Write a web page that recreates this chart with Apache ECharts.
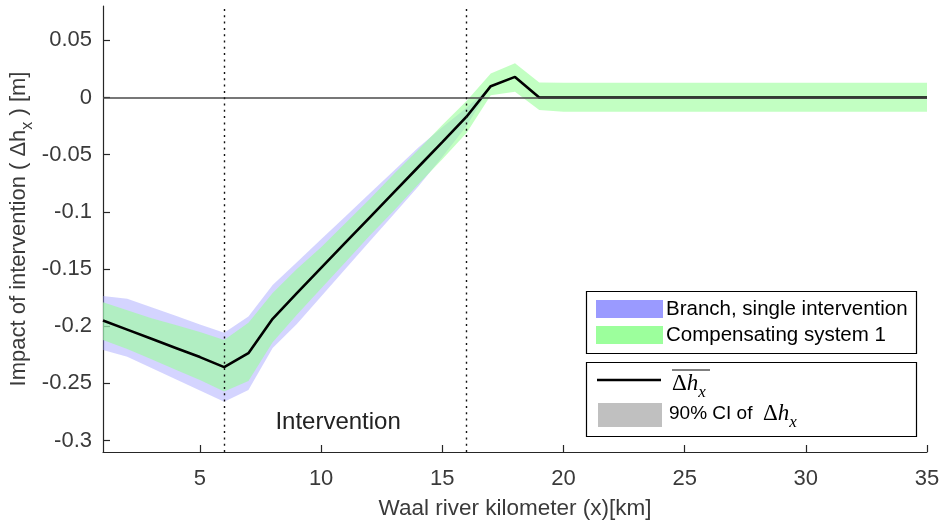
<!DOCTYPE html>
<html>
<head>
<meta charset="utf-8">
<script src="https://cdn.jsdelivr.net/npm/echarts@6/dist/echarts.min.js"></script>
<style>
  html, body { margin: 0; padding: 0; background: #fff; }
  #chart { width: 942px; height: 523px; }
</style>
</head>
<body>
<div id="chart"></div>
<script>
// River kilometre positions along the Waal
const km = [1, 2, 3, 4, 5, 6, 7, 8, 9, 10, 11, 12, 13, 14, 15, 16, 17, 18, 19, 20,
            21, 22, 23, 24, 25, 26, 27, 28, 29, 30, 31, 32, 33, 34, 35];

// Mean water level change (m)
const meanDh = [-0.195, -0.203, -0.211, -0.219, -0.227, -0.2358, -0.2236, -0.1935, -0.171, -0.149,
                -0.127, -0.105, -0.083, -0.061, -0.039, -0.0168, 0.0099, 0.018, 0, 0,
                0, 0, 0, 0, 0, 0, 0, 0, 0, 0, 0, 0, 0, 0, 0];

// 90% CI — branch, single intervention
const branchUpper = [-0.1735, -0.176, -0.1835, -0.1909, -0.1984, -0.2058, -0.1916, -0.164, -0.144, -0.124,
                     -0.104, -0.084, -0.064, -0.044, -0.026, -0.009, 0.0099, 0.018, 0, 0,
                     0, 0, 0, 0, 0, 0, 0, 0, 0, 0, 0, 0, 0, 0, 0];
const branchLower = [-0.2207, -0.2268, -0.2366, -0.2464, -0.2562, -0.266, -0.2557, -0.219, -0.198, -0.174,
                     -0.150, -0.126, -0.102, -0.078, -0.052, -0.025, 0.0099, 0.018, 0, 0,
                     0, 0, 0, 0, 0, 0, 0, 0, 0, 0, 0, 0, 0, 0, 0];

// 90% CI — compensating system 1
const compUpper = [-0.179, -0.186, -0.193, -0.199, -0.205, -0.212, -0.197, -0.171, -0.150, -0.131,
                   -0.110, -0.089, -0.067, -0.046, -0.024, -0.003, 0.021, 0.030, 0.013, 0.0128,
                   0.0128, 0.0128, 0.0128, 0.0128, 0.0128, 0.0128, 0.0128, 0.0128, 0.0128, 0.0128,
                   0.0128, 0.0128, 0.0128, 0.0128, 0.0128];
const compLower = [-0.212, -0.220, -0.229, -0.238, -0.247, -0.257, -0.248, -0.214, -0.190, -0.167,
                   -0.144, -0.121, -0.099, -0.076, -0.054, -0.031, 0.002, 0.005, -0.011, -0.0125,
                   -0.0125, -0.0125, -0.0125, -0.0125, -0.0125, -0.0125, -0.0125, -0.0125, -0.0125, -0.0125,
                   -0.0125, -0.0125, -0.0125, -0.0125, -0.0125];

// Axis ticks
const xTicks = [5, 10, 15, 20, 25, 30, 35];
const yTicks = [-0.3, -0.25, -0.2, -0.15, -0.1, -0.05, 0, 0.05];
const yTickLabels = ['-0.3', '-0.25', '-0.2', '-0.15', '-0.1', '-0.05', '0', '0.05'];

// Intervention reach (km)
const interventionStart = 6;
const interventionEnd = 16;

const FONT = 'Liberation Sans, Arial, Helvetica, sans-serif';
const MATH = 'Liberation Serif, Times New Roman, serif';

const pairs = (ys) => km.map((x, i) => [x, ys[i]]);
const bandData = (up, lo) => km.map((x, i) => [x, up[i], lo[i]]);

// Confidence band drawn as one closed polygon: upper edge forward, lower edge back
function bandSeries(up, lo, fill) {
  return {
    type: 'custom',
    data: bandData(up, lo),
    encode: { x: 0, y: [1, 2] },
    silent: true, z: 1, clip: true,
    renderItem: (params, api) => {
      if (params.dataIndex !== 0) return null;
      const top = km.map((x, i) => api.coord([x, up[i]]));
      const bottom = km.map((x, i) => api.coord([x, lo[i]])).reverse();
      return {
        type: 'polygon',
        shape: { points: top.concat(bottom) },
        style: { fill: fill, stroke: null }
      };
    }
  };
}

const chart = echarts.init(document.getElementById('chart'), null, { renderer: 'canvas' });

const axisColor = '#262626';
const labelColor = '#3a3a3a';

const option = {
  animation: false,
  backgroundColor: '#ffffff',
  grid: { left: 103, right: 15, top: 6, bottom: 71, containLabel: false, outerBoundsMode: 'none' },
  xAxis: {
    type: 'value', min: 1, max: 35,
    axisLine: { show: true, onZero: false, lineStyle: { color: axisColor, width: 1.2 } },
    axisTick: { show: true, inside: true, length: 7, customValues: xTicks, lineStyle: { color: axisColor, width: 1.2 } },
    axisLabel: { customValues: xTicks, fontSize: 22, color: labelColor, fontFamily: FONT, margin: 16 },
    splitLine: { show: false },
    name: 'Waal river kilometer (x)[km]',
    nameLocation: 'middle', nameGap: 45, nameMoveOverlap: false,
    nameTextStyle: { fontSize: 22.5, color: labelColor, fontFamily: FONT }
  },
  yAxis: {
    type: 'value', min: -0.31, max: 0.08,
    axisLine: { show: true, onZero: false, lineStyle: { color: axisColor, width: 1.2 } },
    axisTick: { show: true, inside: true, length: 7, customValues: yTicks, lineStyle: { color: axisColor, width: 1.2 } },
    axisLabel: {
      customValues: yTicks, fontSize: 22, color: labelColor, fontFamily: FONT, margin: 11,
      formatter: (v) => {
        const i = yTicks.findIndex(t => Math.abs(t - v) < 1e-9);
        return i >= 0 ? yTickLabels[i] : '';
      }
    },
    splitLine: { show: false },
    name: 'Impact of intervention ( Δh{sub|x} ) [m]',
    nameLocation: 'middle', nameGap: 67, nameRotate: 90, nameMoveOverlap: false,
    nameTextStyle: {
      fontSize: 22, color: labelColor, fontFamily: FONT,
      rich: {
        sub: { fontSize: 16, color: labelColor, fontFamily: FONT, verticalAlign: 'bottom', lineHeight: 34 }
      }
    }
  },
  series: [
    bandSeries(branchUpper, branchLower, 'rgba(153,153,255,0.42)'),
    bandSeries(compUpper, compLower, 'rgba(153,255,153,0.6)'),
    // Reference lines: zero level and intervention reach
    {
      type: 'line', data: pairs(meanDh), symbol: 'none', lineStyle: { width: 0, opacity: 0 },
      silent: true, z: 2,
      markLine: {
        silent: true, symbol: ['none', 'none'], label: { show: false },
        data: [
          { yAxis: 0, lineStyle: { type: 'solid', color: '#4a4a4a', width: 1.5 } },
          { xAxis: interventionStart, lineStyle: { type: [2, 4.3], color: '#111', width: 1.4 } },
          { xAxis: interventionEnd, lineStyle: { type: [2, 4.3], color: '#111', width: 1.4 } }
        ]
      }
    },
    // Mean impact
    {
      type: 'line', data: pairs(meanDh), symbol: 'none', silent: true, z: 4,
      lineStyle: { color: '#000', width: 2.6 },
      markPoint: {
        silent: true, symbol: 'circle', symbolSize: 0,
        data: [{ coord: [10.7, -0.2845] }],
        label: { show: true, position: 'inside', formatter: 'Intervention', fontSize: 24, color: '#222', fontFamily: FONT }
      }
    }
  ],
  graphic: [
    // Legend box: scenarios
    { type: 'rect', shape: { x: 586.5, y: 291.5, width: 330, height: 62 }, style: { fill: '#fff', stroke: '#000', lineWidth: 1.2 }, z: 10 },
    { type: 'rect', shape: { x: 596, y: 300, width: 67, height: 18 }, style: { fill: '#9a9aff' }, z: 11 },
    { type: 'rect', shape: { x: 596, y: 326, width: 67, height: 18 }, style: { fill: '#9cff9c' }, z: 11 },
    { type: 'text', x: 666, y: 309, style: { text: 'Branch, single intervention', font: '20.5px ' + FONT, fill: '#000', textVerticalAlign: 'middle' }, z: 11 },
    { type: 'text', x: 666, y: 335, style: { text: 'Compensating system 1', font: '20.5px ' + FONT, fill: '#000', textVerticalAlign: 'middle' }, z: 11 },
    // Legend box: statistics
    { type: 'rect', shape: { x: 586.5, y: 362.5, width: 330, height: 74 }, style: { fill: '#fff', stroke: '#000', lineWidth: 1.2 }, z: 10 },
    { type: 'line', shape: { x1: 597, y1: 380, x2: 661, y2: 380 }, style: { stroke: '#000', lineWidth: 2.5 }, z: 11 },
    { type: 'line', shape: { x1: 672, y1: 370, x2: 710, y2: 370 }, style: { stroke: '#000', lineWidth: 1 }, z: 11 },
    {
      type: 'text', x: 672, y: 384, z: 11,
      style: {
        text: '{d|Δ}{h|h}{s|x}', textVerticalAlign: 'middle',
        rich: {
          d: { fontSize: 23, fontFamily: MATH, fill: '#000' },
          h: { fontSize: 23, fontFamily: MATH, fontStyle: 'italic', fill: '#000' },
          s: { fontSize: 17, fontFamily: MATH, fontStyle: 'italic', fill: '#000', verticalAlign: 'bottom', lineHeight: 34 }
        }
      }
    },
    { type: 'rect', shape: { x: 598, y: 403, width: 64, height: 24 }, style: { fill: '#c0c0c0' }, z: 11 },
    {
      type: 'text', x: 669, y: 414, z: 11,
      style: {
        text: '{t|90% CI of  }{d|Δ}{h|h}{s|x}', textVerticalAlign: 'middle',
        rich: {
          t: { fontSize: 19, fontFamily: FONT, fill: '#000' },
          d: { fontSize: 23, fontFamily: MATH, fill: '#000' },
          h: { fontSize: 23, fontFamily: MATH, fontStyle: 'italic', fill: '#000' },
          s: { fontSize: 17, fontFamily: MATH, fontStyle: 'italic', fill: '#000', verticalAlign: 'bottom', lineHeight: 34 }
        }
      }
    }
  ]
};

chart.setOption(option);
</script>
</body>
</html>
